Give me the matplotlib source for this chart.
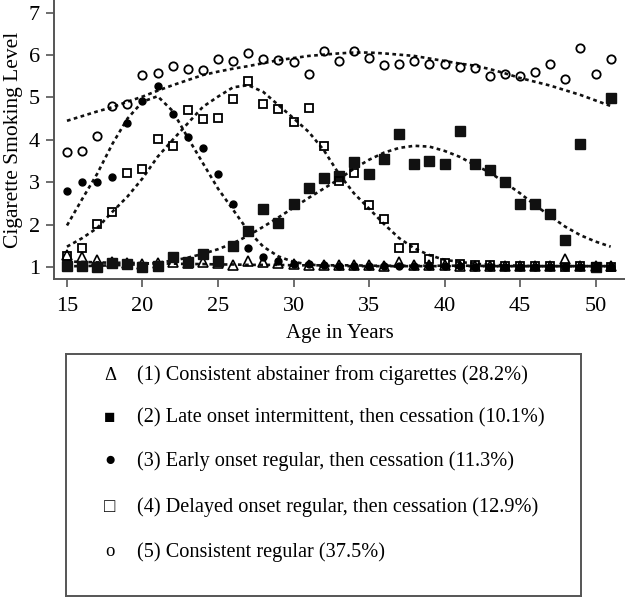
import matplotlib
matplotlib.use("Agg")
import matplotlib.pyplot as plt

plt.rcParams['font.family'] = ['Liberation Serif', 'DejaVu Sans']

# ages on the x axis
ages = [15, 16, 17, 18, 19, 20, 21, 22, 23, 24, 25, 26, 27, 28, 29, 30, 31, 32, 33,
        34, 35, 36, 37, 38, 39, 40, 41, 42, 43, 44, 45, 46, 47, 48, 49, 50, 51]

# observed means per trajectory group
obs_abstainer = [1.28, 1.24, 1.17, 1.12, 1.10, 1.07, 1.10, 1.12, 1.10, 1.12, 1.10, 1.05, 1.14,
                 1.12, 1.10, 1.06, 1.05, 1.04, 1.04, 1.04, 1.04, 1.03, 1.12, 1.05, 1.05, 1.04,
                 1.03, 1.03, 1.03, 1.02, 1.02, 1.02, 1.03, 1.20, 1.02, 1.02, 1.02]
obs_late = [1.03, 1.02, 1.00, 1.10, 1.08, 1.00, 1.02, 1.24, 1.12, 1.30, 1.15, 1.50, 1.86,
            2.38, 2.03, 2.49, 2.87, 3.09, 3.15, 3.48, 3.19, 3.55, 4.15, 3.43, 3.49, 3.44,
            4.21, 3.43, 3.29, 3.00, 2.49, 2.49, 2.26, 1.64, 3.90, 1.00, 4.98]
obs_early = [2.80, 3.01, 3.01, 3.12, 4.40, 4.92, 5.28, 4.62, 4.07, 3.80, 3.20, 2.49, 1.46,
             1.24, 1.14, 1.08, 1.06, 1.04, 1.03, 1.03, 1.03, 1.02, 1.02, 1.02, 1.02, 1.02,
             1.02, 1.01, 1.01, 1.01, 1.01, 1.01, 1.01, 1.01, 1.01, 1.01, 1.01]
obs_delayed = [1.26, 1.46, 2.01, 2.30, 3.22, 3.31, 4.02, 3.86, 4.70, 4.49, 4.51, 4.97, 5.39,
               4.84, 4.73, 4.41, 4.74, 3.86, 3.04, 3.21, 2.47, 2.14, 1.46, 1.44, 1.18, 1.10,
               1.07, 1.05, 1.04, 1.03, 1.02, 1.02, 1.03, 1.00, 1.02, 1.01, 1.00]
obs_regular = [3.72, 3.74, 4.10, 4.80, 4.84, 5.53, 5.57, 5.75, 5.67, 5.65, 5.90, 5.87, 6.05,
               5.91, 5.89, 5.84, 5.55, 6.09, 5.86, 6.10, 5.92, 5.77, 5.80, 5.87, 5.80, 5.80,
               5.73, 5.70, 5.50, 5.55, 5.50, 5.59, 5.78, 5.43, 6.17, 5.55, 5.91]

# predicted trajectories (dotted lines)
fit_abstainer = [1.13, 1.12, 1.11, 1.10, 1.10, 1.09, 1.08, 1.08, 1.07, 1.07, 1.06, 1.06, 1.05,
                 1.05, 1.05, 1.04, 1.04, 1.04, 1.04, 1.04, 1.03, 1.03, 1.03, 1.03, 1.03, 1.03,
                 1.03, 1.03, 1.02, 1.02, 1.02, 1.02, 1.02, 1.02, 1.02, 1.02, 1.02]
fit_late = [1.02, 1.02, 1.03, 1.04, 1.05, 1.07, 1.10, 1.15, 1.22, 1.31, 1.42, 1.56, 1.74,
            1.95, 2.17, 2.40, 2.63, 2.85, 3.07, 3.32, 3.53, 3.70, 3.81, 3.86, 3.84, 3.74,
            3.60, 3.41, 3.23, 2.99, 2.74, 2.46, 2.20, 1.95, 1.75, 1.60, 1.48]
fit_early = [1.98, 2.60, 3.20, 3.90, 4.50, 4.90, 5.03, 4.68, 4.05, 3.45, 2.85, 2.35, 1.85,
             1.48, 1.25, 1.12, 1.06, 1.03, 1.02, 1.02, 1.02, 1.02, 1.02, 1.02, 1.02, 1.02,
             1.02, 1.02, 1.02, 1.02, 1.02, 1.02, 1.02, 1.02, 1.02, 1.02, 1.02]
fit_delayed = [1.48, 1.68, 1.92, 2.30, 2.66, 3.09, 3.60, 4.00, 4.39, 4.78, 5.02, 5.24, 5.29,
               5.13, 4.82, 4.51, 4.19, 3.76, 3.20, 2.74, 2.38, 2.01, 1.68, 1.44, 1.28, 1.17,
               1.12, 1.08, 1.05, 1.04, 1.03, 1.02, 1.02, 1.02, 1.02, 1.02, 1.02]
fit_regular = [4.45, 4.56, 4.67, 4.77, 4.90, 5.02, 5.16, 5.29, 5.41, 5.53, 5.61, 5.68, 5.74,
               5.81, 5.88, 5.93, 5.98, 6.01, 6.04, 6.06, 6.06, 6.04, 6.01, 5.98, 5.92, 5.86,
               5.80, 5.75, 5.67, 5.57, 5.46, 5.37, 5.28, 5.17, 5.06, 4.93, 4.80]

legend_symbols = ['Δ', '■', '●', '□', 'o']
legend_labels = ['(1) Consistent abstainer from cigarettes (28.2%)',
                 '(2) Late onset intermittent, then cessation (10.1%)',
                 '(3) Early onset regular, then cessation (11.3%)',
                 '(4) Delayed onset regular, then cessation (12.9%)',
                 '(5) Consistent regular (37.5%)']

W, H = 625, 597
fig = plt.figure(figsize=(W / 100, H / 100), dpi=100)
ax = fig.add_axes([54 / W, 1 - 279 / H, (W - 54) / W, 279 / H])

dots = (0, (1.4, 1.3))
for fit in [fit_abstainer, fit_late, fit_early, fit_delayed, fit_regular]:
    ax.plot(ages, fit, color='#111111', lw=1.9, linestyle=dots, zorder=2)

ax.plot(ages, obs_abstainer, linestyle='none', marker='^', ms=7, mfc='none', mec='black', mew=1.2, zorder=3)
ax.plot(ages, obs_late, linestyle='none', marker='s', ms=6.5, mfc='#111111', mec='#111111', zorder=3)
ax.plot(ages, obs_early, linestyle='none', marker='o', ms=5, mfc='black', mec='black', zorder=3)
ax.plot(ages, obs_delayed, linestyle='none', marker='s', ms=5.8, mfc='none', mec='black', mew=1.3, zorder=3)
ax.plot(ages, obs_regular, linestyle='none', marker='o', ms=6, mfc='none', mec='black', mew=1.3, zorder=3)

ax.set_xlim(14.14, 51.95)
ax.set_ylim(0.717, 7.30)
ax.set_xticks([15, 20, 25, 30, 35, 40, 45, 50])
ax.set_yticks([1, 2, 3, 4, 5, 6, 7])
for side in ['top', 'right']:
    ax.spines[side].set_visible(False)
for side in ['left', 'bottom']:
    ax.spines[side].set_color('#555555')
    ax.spines[side].set_linewidth(1.4)
ax.tick_params(direction='out', length=6, width=1.2, color='#555555', labelsize=16)
ax.tick_params(axis='x', pad=7)
ax.tick_params(axis='y', pad=4)
ax.set_xlabel('Age in Years', fontsize=15, labelpad=6)
ax.set_ylabel('Cigarette Smoking Level', fontsize=15.5, labelpad=4)

# legend box below the plot
lax = fig.add_axes([66 / W, 1 - 596 / H, (581 - 66) / W, (596 - 354) / H])
lax.set_xlim(0, 1)
lax.set_ylim(0, 1)
lax.set_xticks([])
lax.set_yticks([])
for s in lax.spines.values():
    s.set_color('#555555')
    s.set_linewidth(1.4)
row_y = [375, 418, 461, 507, 552]
for sym, lab, yy in zip(legend_symbols, legend_labels, row_y):
    fy = (596 - yy) / (596 - 354)
    lax.text((110 - 66) / (581 - 66), fy, sym, ha='center', va='center', fontsize=13.5)
    lax.text((137 - 66) / (581 - 66), fy, lab, ha='left', va='center', fontsize=14.6)

fig.savefig('out.png', dpi=100)
